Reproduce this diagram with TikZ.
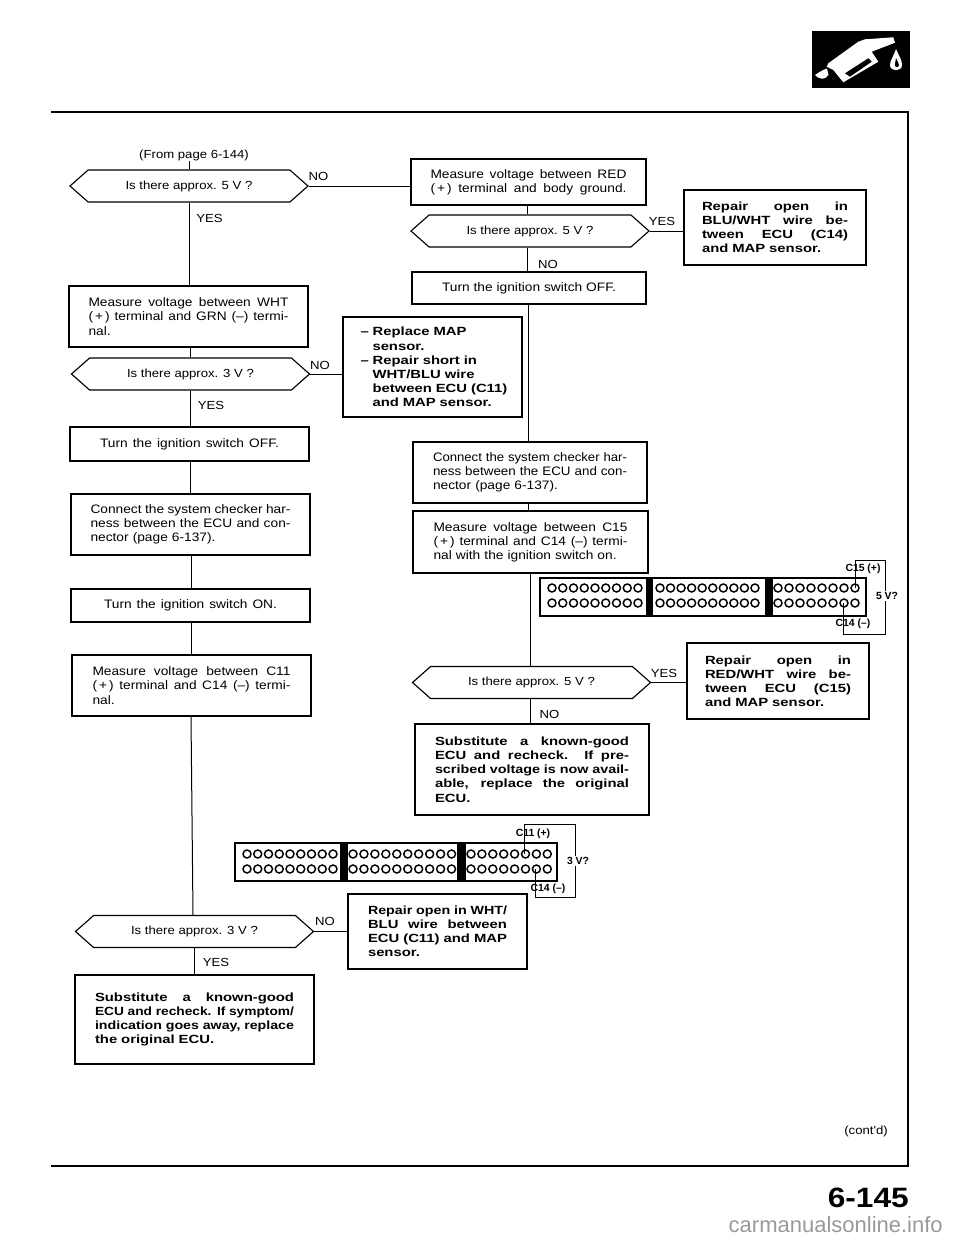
\documentclass[tikz,border=0pt]{standalone}
\usepackage{fontspec}
\usepackage{graphicx}
\usetikzlibrary{shapes.symbols,calc}
\setmainfont{Liberation Sans}
\newfontfamily\rgfont[FakeStretch=1.12]{Liberation Sans}
\newfontfamily\bdfont[FakeStretch=1.25]{Liberation Sans Bold}
\newfontfamily\pgfont[FakeStretch=1.13]{Liberation Sans Bold}
\newcommand\jl[1]{{\spaceskip=0pt\xspaceskip=0pt\makebox[\hsize][s]{#1}}}
\newcommand\jf[1]{\resizebox{\hsize}{\height}{#1}}
\newcommand\bx[8][boxr]{%
  \pgfmathsetlengthmacro\bw{(#5-#3)*0.75pt}%
  \pgfmathsetlengthmacro\bh{(#6-#4)*0.75pt}%
  \pgfmathsetlengthmacro\tw{#7*0.75pt}%
  \node[#1,minimum width=\bw,minimum height=\bh,text width=\tw] (#2) at ({(#3+#5)/2},{(#4+#6)/2}) {#8};}
\tikzset{
  ln/.style={line width=0.75pt,black},
  boxr/.style={draw,line width=0.85pt,inner sep=0pt,align=left,font=\rgfont\fontsize{9.2}{10.6}\selectfont},
  boxb/.style={draw,line width=0.85pt,inner sep=0pt,align=left,font=\bdfont\fontsize{8.9}{10.6}\selectfont},
  hexa/.style={draw,line width=0.85pt,shape=signal,signal to=west and east,signal pointer angle=83,inner sep=0pt,
     minimum width=178.5pt,minimum height=24pt,font=\rgfont\fontsize{8.8}{10}\selectfont},
  lab/.style={inner sep=0pt,font=\rgfont\fontsize{8.8}{10}\selectfont},
  pinlab/.style={inner sep=0pt,font=\bfseries\fontsize{7.8}{9}\selectfont},
  conn/.style={draw,line width=1.8pt},
  pin/.style={draw,line width=1.1pt},
}
\newcommand\pins[4]{% x0, dx, count, y
  \foreach \i in {1,...,#3}{\draw[pin] ({#1+(\i-1)*#2},#4) circle[radius=4];}}
\newcommand\pls{(\,+\,)}
\begin{document}
\begin{tikzpicture}[x=0.75pt,y=-0.75pt]
\useasboundingbox (0,0) rectangle (960,1242);
% logo
\fill[black] (812,31) rectangle (910,88);
\fill[white] (828.3,63.3) -- (858.3,41.7) -- (865,39.3) -- (893.3,37.3) -- (895,42.7) -- (871.7,51.7) -- (878.3,61.7) -- (843.3,82.3) -- (833.3,70) -- (826.7,66.7) -- cycle;
\fill[black] (845,73.3) -- (868.3,58.3) -- (871.7,61.7) -- (850,76.7) -- cycle;
\fill[white] (815,75) .. controls (822,70) and (826,69) .. (827,68.5) -- (828.5,75) .. controls (825,80) and (820,80) .. (815,75) -- cycle;
\fill[white] (896,49) .. controls (899,56) and (902,60) .. (902,65) .. controls (902,72) and (890,72) .. (890,65) .. controls (890,60) and (894,56) .. (896,49) -- cycle;
\fill[black] (896,58) .. controls (897,61) and (899,63) .. (899,65) .. controls (899,68) and (894,68) .. (895,64) -- cycle;
% page frame
\coordinate (ftl) at (52,112);
\coordinate (ftr) at (908,112);
\coordinate (fbr) at (908,1166);
\coordinate (fbl) at (52,1166);
\draw[line width=1.2pt,line cap=rect] (ftl) -- (ftr) -- (fbr) -- (fbl);
% left column
\node[lab] (from) at (194,155) {(From page 6-144)};
\node[hexa] (h1) at (189,186) {Is there approx. 5 V ?};
\bx{wht}{69}{286}{308}{347}{200}{\jl{Measure voltage between WHT}\\\jl{\pls{} terminal and GRN (–) termi-}\\nal.}
\node[hexa] (h2) at (190.5,374) {Is there approx. 3 V ?};
\bx{toff}{70}{427}{309}{461}{179}{\jl{Turn the ignition switch OFF.}}
\bx{chk}{71}{494}{310}{555}{200}{\jl{Connect the system checker har-}\\\jl{ness between the ECU and con-}\\nector (page 6-137).}
\bx{ton}{71}{589}{310}{622}{173}{\jl{Turn the ignition switch ON.}}
\bx{mc}{72}{655}{311}{716}{198}{\jl{Measure voltage between C11}\\\jl{\pls{} terminal and C14 (–) termi-}\\nal.}
\node[hexa] (h3) at (194.5,931.5) {Is there approx. 3 V ?};
\bx[boxb]{subl}{75}{975}{314}{1064}{199}{\jl{Substitute a known-good}\\\jf{ECU and recheck. If symptom/}\\\jf{indication goes away, replace}\\the original ECU.}
% right column
\bx{red}{411}{159}{646}{205}{196}{\jl{Measure voltage between RED}\\\jl{\pls{} terminal and body ground.}}
\bx[boxb]{rblu}{684}{190}{866}{265}{146}{\jl{Repair open in}\\\jl{BLU/WHT wire be-}\\\jl{tween ECU (C14)}\\and MAP sensor.}
\node[hexa] (h4) at (530,231) {Is there approx. 5 V ?};
\bx{toff2}{412}{272}{646}{304}{174}{\jl{Turn the ignition switch OFF.}}
\bx[boxb]{repl}{343}{317}{522}{417}{144}{– Replace MAP\\\hspace*{9pt}sensor.\\– Repair short in\\\hspace*{9pt}WHT/BLU wire\\\hspace*{9pt}\mbox{between ECU (C11)}\\\hspace*{9pt}and MAP sensor.}
\bx{chk2}{413}{442}{647}{503}{194}{\jf{Connect the system checker har-}\\\jf{ness between the ECU and con-}\\nector (page 6-137).}
\bx{mc2}{413}{511}{648}{573}{194}{\jl{Measure voltage between C15}\\\jl{\pls{} terminal and C14 (–) termi-}\\nal with the ignition switch on.}
\node[hexa] (h5) at (531.5,682.5) {Is there approx. 5 V ?};
\bx[boxb]{rred}{687}{643}{869}{719}{146}{\jl{Repair open in}\\\jl{RED/WHT wire be-}\\\jl{tween ECU (C15)}\\and MAP sensor.}
\bx[boxb]{subr}{415}{724}{649}{815}{194}{\jl{Substitute a known-good}\\\jl{ECU and recheck. If pre-}\\\jf{scribed voltage is now avail-}\\\jl{able, replace the original}\\ECU.}
\bx[boxb]{rwht}{348}{894}{527}{969}{139}{\jf{Repair open in WHT/}\\\jl{BLU wire between}\\\jl{ECU (C11) and MAP}\\sensor.}
% spines
\coordinate (sa) at (189,0);
\coordinate (sb) at (190,0);
\coordinate (sc) at (191,0);
\coordinate (sd) at (193,0);
\coordinate (se) at (194.5,0);
\coordinate (ra) at (527,0);
\coordinate (rb) at (528,0);
\coordinate (rc) at (530,0);
% connectors
\draw[ln] (sa |- from.south) -- (sa |- h1.north);
\draw[ln] (sa |- h1.south) -- (sa |- wht.north);
\draw[ln] (sb |- wht.south) -- (sb |- h2.north);
\draw[ln] (sb |- h2.south) -- (sb |- toff.north);
\draw[ln] (sb |- toff.south) -- (sb |- chk.north);
\draw[ln] (sc |- chk.south) -- (sc |- ton.north);
\draw[ln] (sc |- ton.south) -- (sc |- mc.north);
\draw[ln] (sc |- mc.south) -- (sd |- h3.north);
\draw[ln] (se |- h3.south) -- (se |- subl.north);
\draw[ln] (h1.east) -- (h1.east -| red.west);
\draw[ln] (h2.east) -- (h2.east -| repl.west);
\draw[ln] (h3.east) -- (h3.east -| rwht.west);
\draw[ln] (ra |- red.south) -- (ra |- h4.north);
\draw[ln] (ra |- h4.south) -- (ra |- toff2.north);
\draw[ln] (rb |- toff2.south) -- (rb |- chk2.north);
\draw[ln] (rb |- chk2.south) -- (rb |- mc2.north);
\draw[ln] (rc |- mc2.south) -- (rc |- h5.north);
\draw[ln] (rc |- h5.south) -- (rc |- subr.north);
\draw[ln] (h4.east) -- (h4.east -| rblu.west);
\draw[ln] (h5.east) -- (h5.east -| rred.west);
% labels
\node[lab] (y1) at (209.5,218) {YES};
\node[lab] (n1) at (318.5,176) {NO};
\node[lab] (y2) at (211,405) {YES};
\node[lab] (n2) at (320,365) {NO};
\node[lab] (y3) at (216,962) {YES};
\node[lab] (n3) at (325,921) {NO};
\node[lab] (y4) at (662,221) {YES};
\node[lab] (n4) at (548,264) {NO};
\node[lab] (y5) at (664,673) {YES};
\node[lab] (n5) at (549.5,714) {NO};
% connector 1 (C15)
\coordinate (ca1) at (855,588);
\coordinate (ca2) at (843,603);
\coordinate (wa1) at (885,560);
\coordinate (wa2) at (885,634);
\draw[conn] (540,578) rectangle (866,616);
\fill (646,578) rectangle (653,616);
\fill (765,578) rectangle (773,616);
\pins{552}{10.75}{9}{588}\pins{552}{10.75}{9}{603}
\pins{660}{10.55}{10}{588}\pins{660}{10.55}{10}{603}
\pins{778}{11}{8}{588}\pins{778}{11}{8}{603}
\draw[ln] (ca1) |- (wa1) -- (wa2) -| (ca2);
\node[pinlab] (l15) at (863,569) {C15 (+)};
\node[pinlab] (l14) at (853,624) {C14 (–)};
\node[pinlab,fill=white,inner sep=1pt] (v5) at (887,596) {5 V?};
% connector 2 (C11)
\coordinate (cb1) at (524,854);
\coordinate (cb2) at (535,869);
\coordinate (wb1) at (575,824);
\coordinate (wb2) at (575,897);
\draw[conn] (235,843) rectangle (557,881);
\fill (340,843) rectangle (348,881);
\fill (457,843) rectangle (466,881);
\pins{247}{10.75}{9}{854}\pins{247}{10.75}{9}{869}
\pins{353}{10.95}{10}{854}\pins{353}{10.95}{10}{869}
\pins{471}{10.9}{8}{854}\pins{471}{10.9}{8}{869}
\draw[ln] (cb1) |- (wb1) -- (wb2) -| (cb2);
\node[pinlab] (l11) at (533,834) {C11 (+)};
\node[pinlab] (l142) at (548,889) {C14 (–)};
\node[pinlab,fill=white,inner sep=1pt] (v3) at (578,861) {3 V?};
% footer
\node[lab] (cont) at (866,1131) {(cont'd)};
\node[anchor=east,inner sep=0pt,font=\pgfont\fontsize{21}{24}\selectfont] (pg) at (909,1198) {6-145};
\node[anchor=east,inner sep=0pt,text=black!40,font=\fontsize{16.5}{20}\selectfont] (wm) at (943,1225) {carmanualsonline.info};
\end{tikzpicture}
\end{document}
